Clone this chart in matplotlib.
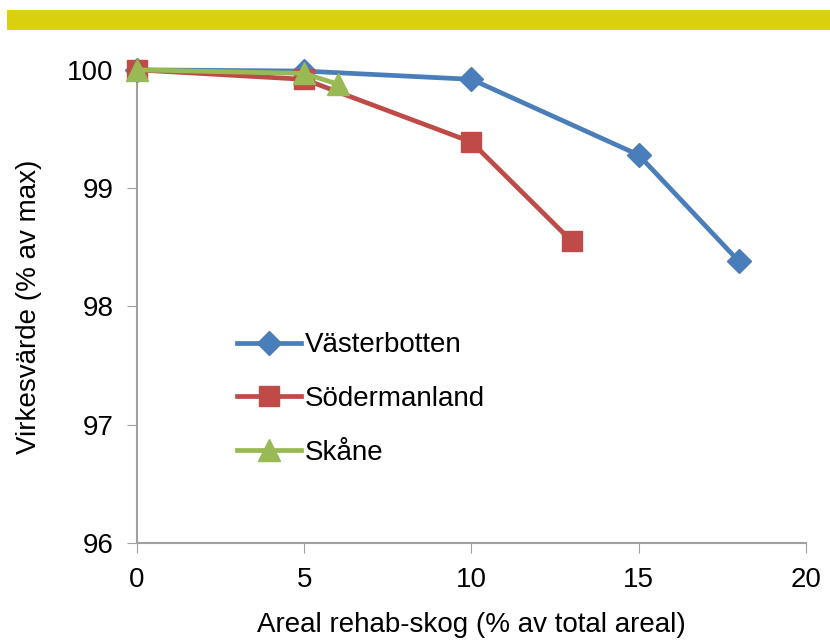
import matplotlib
matplotlib.use("Agg")
import matplotlib.pyplot as plt
from matplotlib.patches import Rectangle

plt.rcParams['font.family'] = ['Liberation Sans', 'DejaVu Sans']

# data
vb_x = [0, 5, 10, 15, 18]
vb_y = [100, 99.99, 99.92, 99.28, 98.38]
sm_x = [0, 5, 10, 13]
sm_y = [100, 99.92, 99.39, 98.55]
sk_x = [0, 5, 6]
sk_y = [100, 99.97, 99.88]
xticks = [0, 5, 10, 15, 20]
yticks = [96, 97, 98, 99, 100]

fig = plt.figure(figsize=(8.3, 6.41), dpi=100)
# yellow band on top
fig.patches.append(Rectangle((0.008, 0.953), 0.992, 0.031, transform=fig.transFigure,
                             facecolor='#d9d10f', edgecolor='none'))

ax = fig.add_axes([0.165, 0.153, 0.806, 0.738])
ax.plot(vb_x, vb_y, color='#4a7ebb', lw=3.4, marker='D', ms=12,
        label='Västerbotten', zorder=3, clip_on=False)
ax.plot(sm_x, sm_y, color='#be4b48', lw=3.4, marker='s', ms=15,
        label='Södermanland', zorder=4, clip_on=False)
ax.plot(sk_x, sk_y, color='#98b954', lw=3.4, marker='^', ms=16,
        label='Skåne', zorder=5, clip_on=False)

ax.set_xlim(0, 20)
ax.set_ylim(96, 100)
ax.set_xticks(xticks)
ax.set_yticks(yticks)
ax.tick_params(labelsize=20, length=7, color='#a0a0a0', direction='out', pad=10)
for s in ['top', 'right']:
    ax.spines[s].set_visible(False)
for s in ['left', 'bottom']:
    ax.spines[s].set_color('#a0a0a0')
    ax.spines[s].set_linewidth(1.5)
ax.spines['left'].set_zorder(1)

ax.set_xlabel('Areal rehab-skog (% av total areal)', fontsize=20, labelpad=14)
ax.set_ylabel('Virkesvärde (% av max)', fontsize=20, labelpad=18)

ax.legend(loc='upper left', bbox_to_anchor=(0.149, 0.445), frameon=False, fontsize=20,
          handlelength=2.3, handletextpad=0.15, labelspacing=1.0, borderpad=0,
          borderaxespad=0)

fig.savefig('out.png', dpi=100)
